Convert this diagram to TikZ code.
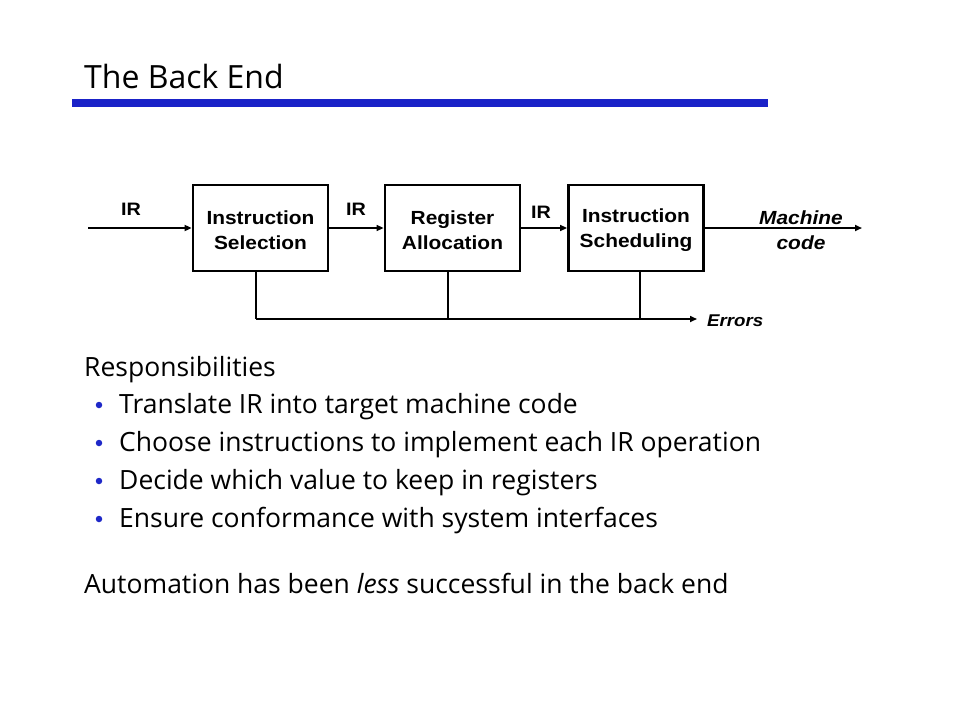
\documentclass[tikz,border=0pt]{standalone}
\usepackage{fontspec}
\setmainfont{Open Sans}
\newfontfamily\diag[FakeStretch=1.1]{Liberation Sans}
\usetikzlibrary{arrows.meta}
\definecolor{barblue}{RGB}{26,34,200}
\definecolor{bulletblue}{RGB}{30,40,200}
\begin{document}
\begin{tikzpicture}[x=1pt,y=-1pt,
  stage/.style={draw=black,line width=2.8pt,minimum width=135pt,minimum height=86pt,inner sep=0pt,align=center,font=\diag\bfseries\fontsize{19}{25}\selectfont},
  flow/.style={line width=2pt,-{Triangle[length=7pt,width=6pt]}},
  thinflow/.style={line width=1.3pt,-{Triangle[length=7pt,width=6pt]}},
  errline/.style={line width=1.6pt},
  lbl/.style={font=\diag\bfseries\fontsize{18}{20}\selectfont,inner sep=0pt},
  ilbl/.style={font=\diag\bfseries\itshape\fontsize{19}{25}\selectfont,inner sep=0pt,align=center},
  body/.style={anchor=west,inner sep=0pt,font=\fontsize{26.5}{30}\selectfont},
  dot/.style={circle,fill=bulletblue,inner sep=0pt,minimum size=6.5pt}]
\useasboundingbox (0,0) rectangle (960,720);
\fill[white] (0,0) rectangle (960,720);
% title
\node[anchor=west,inner sep=0pt,font=\fontsize{32}{38}\selectfont] (title) at (84,76) {The Back End};
\fill[barblue] (72,99) rectangle (768,107);
% stages
\node[stage] (s1) at (260.5,228) {};
\node[stage] (s2) at (452.5,228) {};
\node[stage] (s3) at (636,228) {};
\node[font=\diag\bfseries\fontsize{19}{25}\selectfont,align=center,inner sep=0pt] (s1t) at (260.5,230) {Instruction\\Selection};
\node[font=\diag\bfseries\fontsize{19}{25}\selectfont,align=center,inner sep=0pt] (s2t) at (452.5,230) {Register\\Allocation};
\node[font=\diag\bfseries\fontsize{19}{25}\selectfont,align=center,inner sep=0pt] (s3t) at (636,230) {Instruction\\Scheduling};
\coordinate (in) at (88,228);
\coordinate (out) at (862,228);
\draw[flow] (in) -- (s1.west);
\draw[thinflow] (s1.east) -- (s2.west);
\draw[thinflow] (s2.east) -- (s3.west);
\draw[flow] (s3.east) -- (out);
\node[lbl] (ir1) at (131,209) {IR};
\node[lbl] (ir2) at (356,209) {IR};
\node[lbl] (ir3) at (541,212) {IR};
\node[ilbl] (mc) at (801,230) {Machine\\code};
% errors
\coordinate (e1) at (256,319);
\coordinate (e2) at (448,319);
\coordinate (e3) at (640,319);
\coordinate (eend) at (697,319);
\draw[errline] (s1.south -| e1) -- (e1);
\draw[errline] (s2.south -| e2) -- (e2);
\draw[errline] (s3.south -| e3) -- (e3);
\draw[errline,-{Triangle[length=7pt,width=6pt]}] (e1) -- (eend);
\node[lbl,font=\diag\bfseries\itshape\fontsize{17}{20}\selectfont,anchor=west] (err) at (707,321) {Errors};
% body text
\node[body] (resp) at (84,370) {Responsibilities};
\node[dot] (b1) at (99,405) {};
\node[dot] (b2) at (99,443) {};
\node[dot] (b3) at (99,481) {};
\node[dot] (b4) at (99,519) {};
\node[body] (t1) at (119,407) {Translate IR into target machine code};
\node[body] (t2) at (119,445) {Choose instructions to implement each IR operation};
\node[body] (t3) at (119,483) {Decide which value to keep in registers};
\node[body] (t4) at (119,521) {Ensure conformance with system interfaces};
\node[body] (auto) at (84,583) {Automation has been \textit{less} successful in the back end};
\end{tikzpicture}
\end{document}
